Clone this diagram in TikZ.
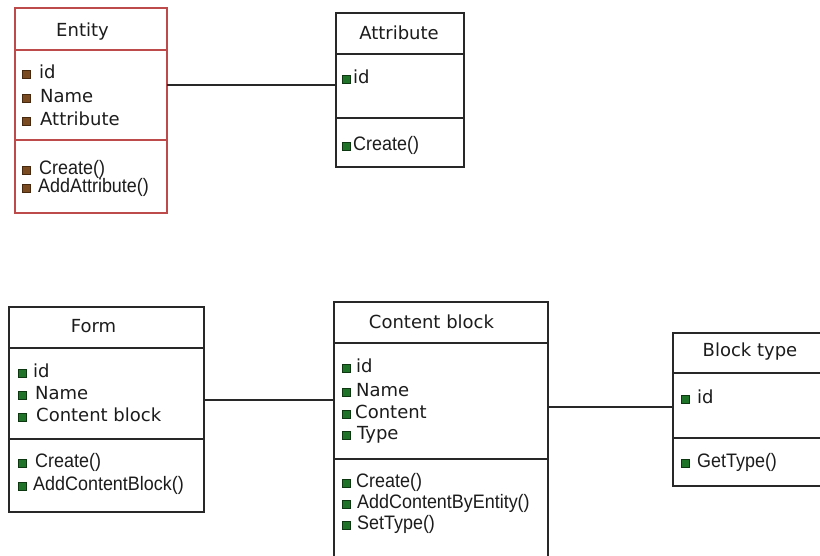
\documentclass[tikz,border=0pt]{standalone}
\usepackage{graphicx}
\usepackage{fontspec}
\setmainfont{DejaVu Sans}
\newfontfamily\methfont{Liberation Sans}
\definecolor{boxline}{RGB}{40,40,40}
\definecolor{entline}{RGB}{190,75,75}
\definecolor{gfill}{RGB}{30,115,40}
\definecolor{gedge}{RGB}{12,55,16}
\definecolor{bfill}{RGB}{122,74,32}
\definecolor{bedge}{RGB}{70,40,14}
\definecolor{txt}{RGB}{28,28,28}
\tikzset{
  clsbox/.style={draw=boxline, line width=1.3pt, fill=white, rectangle,
    inner sep=0pt, outer sep=0pt, anchor=north west},
  entbox/.style={clsbox, draw=entline},
  sepline/.style={draw=boxline, line width=1.3pt},
  entsep/.style={draw=entline, line width=1.3pt},
  link/.style={draw=boxline, line width=1.3pt},
  hdr/.style={font=\fontsize{18}{20}\selectfont, text=txt, inner sep=0pt, anchor=base},
  attr/.style={font=\fontsize{18}{20}\selectfont, text=txt, inner sep=0pt},
  meth/.style={font=\methfont\fontsize{19.5}{21}\selectfont, text=txt, inner sep=0pt},
  gbul/.style={rectangle, fill=gfill, draw=gedge, line width=0.9pt,
    minimum size=8pt, inner sep=0pt},
  bbul/.style={gbul, fill=bfill, draw=bedge},
}
% method names are set in a narrowed face
\newcommand{\mt}[1]{\scalebox{0.92}[1]{#1}}
% one compartment row: name, bullet x, text x, baseline y, bullet style, text style, text
\newcommand{\umlrow}[7]{%
  \node[#5] (#1b) at (#2,#4-4) {};
  \node[#6, anchor=base west] (#1) at (#3,#4) {#7};}
\begin{document}
\begin{tikzpicture}[x=1pt, y=-1pt]
\useasboundingbox (0,0) rectangle (820,555);
\fill[white] (0,0) rectangle (820,555);
\clip (0,0) rectangle (820,555);

% ---------- Entity ----------
\node[entbox, minimum width=152pt, minimum height=205pt] (entity) at (15,8) {};
\draw[entsep] (entity.west |- 0,50) -- (entity.east |- 0,50);
\draw[entsep] (entity.west |- 0,140) -- (entity.east |- 0,140);
\node[hdr] (entityT) at (82.5,36) {Entity};
\umlrow{eid}{26.5}{39}{78}{bbul}{attr}{id}
\umlrow{ename}{26.5}{40}{102}{bbul}{attr}{Name}
\umlrow{eattr}{26.5}{40}{125}{bbul}{attr}{Attribute}
\umlrow{ecreate}{26.5}{39}{174}{bbul}{meth}{\mt{Create()}}
\umlrow{eadd}{26.5}{38}{192}{bbul}{meth}{\mt{AddAttribute()}}

% ---------- Attribute ----------
\node[clsbox, minimum width=128pt, minimum height=154pt] (attribute) at (336,13) {};
\draw[sepline] (attribute.west |- 0,54) -- (attribute.east |- 0,54);
\draw[sepline] (attribute.west |- 0,118) -- (attribute.east |- 0,118);
\node[hdr] (attributeT) at (399,39) {Attribute};
\umlrow{aid}{346.5}{353}{83}{gbul}{attr}{id}
\umlrow{acreate}{346.5}{353}{150}{gbul}{meth}{\mt{Create()}}

% ---------- Form ----------
\node[clsbox, minimum width=195pt, minimum height=205pt] (form) at (9,307) {};
\draw[sepline] (form.west |- 0,348) -- (form.east |- 0,348);
\draw[sepline] (form.west |- 0,439) -- (form.east |- 0,439);
\node[hdr] (formT) at (93.5,332) {Form};
\umlrow{fid}{22.5}{33}{377}{gbul}{attr}{id}
\umlrow{fname}{22.5}{35}{399}{gbul}{attr}{Name}
\umlrow{fcb}{22.5}{36}{421}{gbul}{attr}{Content block}
\umlrow{fcreate}{22.5}{35}{467}{gbul}{meth}{\mt{Create()}}
\umlrow{fadd}{22.5}{33}{490}{gbul}{meth}{\mt{AddContentBlock()}}

% ---------- Content block ----------
\node[clsbox, minimum width=214pt, minimum height=280pt] (content) at (334,302) {};
\draw[sepline] (content.west |- 0,343) -- (content.east |- 0,343);
\draw[sepline] (content.west |- 0,459) -- (content.east |- 0,459);
\node[hdr] (contentT) at (431.5,328) {Content block};
\umlrow{cid}{346.5}{356}{372}{gbul}{attr}{id}
\umlrow{cname}{346.5}{356}{396}{gbul}{attr}{Name}
\umlrow{ccont}{346.5}{355}{418}{gbul}{attr}{Content}
\umlrow{ctype}{346.5}{357}{439}{gbul}{attr}{Type}
\umlrow{ccreate}{346.5}{356}{487}{gbul}{meth}{\mt{Create()}}
\umlrow{cadd}{346.5}{357}{508}{gbul}{meth}{\mt{AddContentByEntity()}}
\umlrow{cset}{346.5}{357}{529}{gbul}{meth}{\mt{SetType()}}

% ---------- Block type ----------
\node[clsbox, minimum width=160pt, minimum height=153pt] (btype) at (673,333) {};
\draw[sepline] (btype.west |- 0,373) -- (btype.east |- 0,373);
\draw[sepline] (btype.west |- 0,438) -- (btype.east |- 0,438);
\node[hdr] (btypeT) at (750,356) {Block type};
\umlrow{bid}{685}{697}{403}{gbul}{attr}{id}
\umlrow{bget}{685}{697}{467}{gbul}{meth}{\mt{GetType()}}

% ---------- associations ----------
\draw[link] (entity.east |- 0,85) -- (attribute.west |- 0,85);
\draw[link] (form.east |- 0,400) -- (content.west |- 0,400);
\draw[link] (content.east |- 0,407) -- (btype.west |- 0,407);
\end{tikzpicture}
\end{document}
